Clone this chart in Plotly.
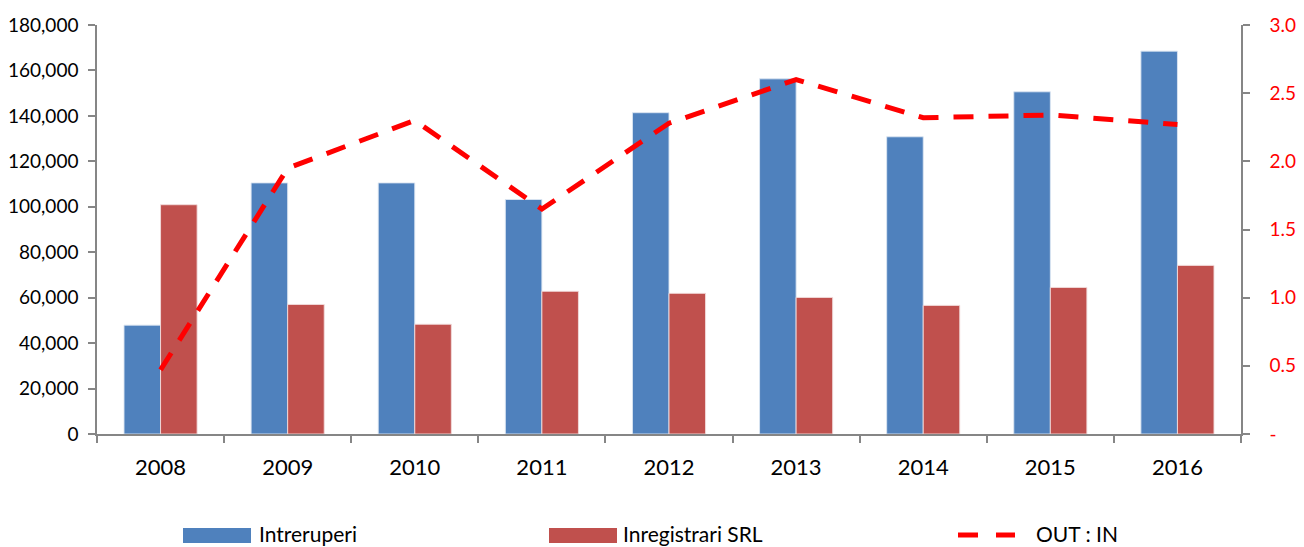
import plotly.graph_objects as go

years = ["2008", "2009", "2010", "2011", "2012", "2013", "2014", "2015", "2016"]
intreruperi = [47900, 110500, 110500, 103200, 141400, 156300, 130800, 150600, 168500]
inregistrari = [100900, 57000, 48300, 62800, 61900, 60100, 56600, 64500, 74200]
out_in = [0.47, 1.95, 2.30, 1.65, 2.28, 2.60, 2.32, 2.34, 2.27]

left_ticks = [0, 20000, 40000, 60000, 80000, 100000, 120000, 140000, 160000, 180000]
right_ticks = [0, 0.5, 1.0, 1.5, 2.0, 2.5, 3.0]
right_ticktext = ["-", "0.5", "1.0", "1.5", "2.0", "2.5", "3.0"]

names = ["Intreruperi", "Inregistrari SRL", "OUT : IN"]
BLUE = "#4F81BD"
RED = "#C0504D"
LINE_RED = "#FF0000"
AXIS = "#868686"
FONT = "Lato"

fig = go.Figure()
fig.add_trace(go.Bar(x=years, y=intreruperi, name=names[0], marker=dict(color=BLUE, line=dict(color="rgba(220,230,242,0.9)", width=1))))
fig.add_trace(go.Bar(x=years, y=inregistrari, name=names[1], marker=dict(color=RED, line=dict(color="rgba(242,220,219,0.9)", width=1))))
fig.add_trace(go.Scatter(x=years, y=out_in, name=names[2], yaxis="y2", mode="lines",
                         line=dict(color=LINE_RED, width=5, dash="20px,15px")))

# the page body has an 8px margin; work in page coordinates and shift
OFF = 8
W, H = 1304 - OFF, 547 - OFF
L, T = 97 - OFF, 25 - OFF
R = 1304 - 1241
B = 547 - 434
pw = W - L - R
ph = H - T - B

def px(x):
    return (x - OFF - L) / pw

def py(y):
    return (H - B - (y - OFF)) / ph

LEG_Y = 533
shapes = [
    dict(type="rect", xref="paper", yref="paper", x0=px(183), x1=px(251), y0=py(543), y1=py(528),
         fillcolor=BLUE, line=dict(width=0)),
    dict(type="rect", xref="paper", yref="paper", x0=px(549), x1=px(617), y0=py(543), y1=py(528),
         fillcolor=RED, line=dict(width=0)),
    dict(type="line", xref="paper", yref="paper", x0=px(958), x1=px(978), y0=py(535), y1=py(535),
         line=dict(color=LINE_RED, width=5)),
    dict(type="line", xref="paper", yref="paper", x0=px(996), x1=px(1015), y0=py(535), y1=py(535),
         line=dict(color=LINE_RED, width=5)),
]
annotations = [
    dict(text=names[0], xref="paper", yref="paper", x=px(257), y=py(LEG_Y), xanchor="left", yanchor="middle",
         showarrow=False, font=dict(family=FONT, size=21, color="#000000")),
    dict(text=names[1], xref="paper", yref="paper", x=px(621), y=py(LEG_Y), xanchor="left", yanchor="middle",
         showarrow=False, font=dict(family=FONT, size=21, color="#000000")),
    dict(text=names[2], xref="paper", yref="paper", x=px(1034), y=py(LEG_Y), xanchor="left", yanchor="middle",
         showarrow=False, font=dict(family=FONT, size=21, color="#000000")),
]

fig.update_layout(
    width=W, height=H,
    margin=dict(l=L, r=R, t=T, b=B, pad=0, autoexpand=False),
    paper_bgcolor="white", plot_bgcolor="white",
    barmode="group", bargap=0.425, bargroupgap=0,
    showlegend=False,
    font=dict(family=FONT, color="#000000"),
    xaxis=dict(type="category", automargin=False, showline=True, linecolor=AXIS, linewidth=1.5, ticks="outside",
               tickson="boundaries", ticklen=7, tickcolor=AXIS, tickwidth=1.5,
               tickfont=dict(family=FONT, size=22, color="#000000"), showgrid=False,
               ticklabelstandoff=13),
    yaxis=dict(range=[0, 180000], automargin=False, tickvals=left_ticks, tickformat=",", showline=True,
               linecolor=AXIS, linewidth=1.5, ticks="outside", ticklen=7, tickcolor=AXIS, tickwidth=1.5,
               showgrid=False, zeroline=False, tickfont=dict(family=FONT, size=19, color="#000000"),
               ticklabelstandoff=6),
    yaxis2=dict(range=[0, 3], automargin=False, overlaying="y", side="right", tickvals=right_ticks,
                ticktext=right_ticktext, showline=True, linecolor=AXIS, linewidth=1.5, ticks="outside",
                ticklen=7, tickcolor=AXIS, tickwidth=1.5, showgrid=False, zeroline=False,
                tickfont=dict(family=FONT, size=19, color="#FF0000"), ticklabelstandoff=16),
    shapes=shapes,
    annotations=annotations,
)

fig.write_html("out.html")
